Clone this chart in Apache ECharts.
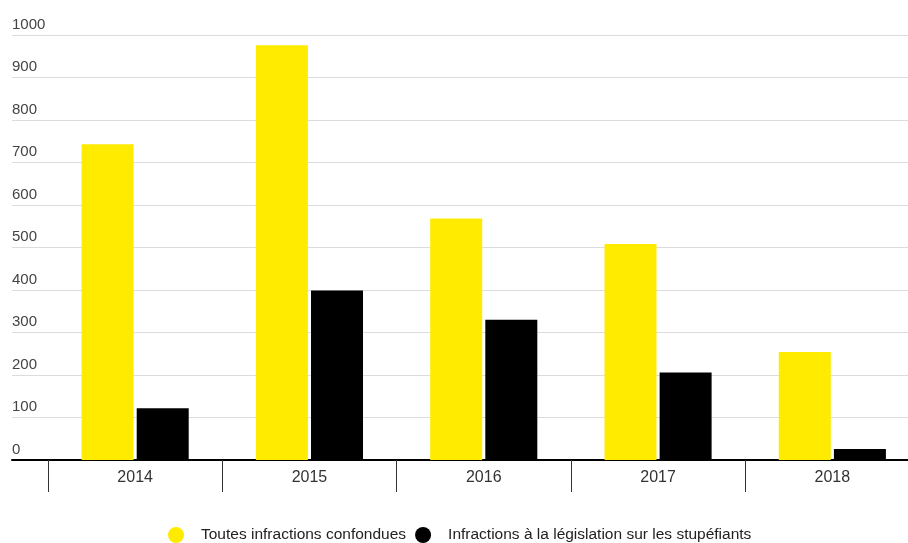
<!DOCTYPE html>
<html>
<head>
<meta charset="utf-8">
<script src="https://cdn.jsdelivr.net/npm/echarts@6/dist/echarts.min.js"></script>
<style>
  html, body { margin: 0; padding: 0; background: #fff; }
  #chart { width: 908px; height: 543px; }
</style>
</head>
<body>
<div id="chart"></div>
<script>
// données
var years = ['2014', '2015', '2016', '2017', '2018'];
var toutes = [743, 976, 568, 508, 254];
var stupefiants = [122, 399, 330, 206, 26];
var seriesNames = ['Toutes infractions confondues', 'Infractions à la législation sur les stupéfiants'];

var myChart = echarts.init(document.getElementById('chart'));

var option = {
    backgroundColor: '#fff',
    textStyle: { fontFamily: 'Liberation Sans, Arial, sans-serif' },
    grid: [
        { left: 12, right: 0, top: 35, height: 425, outerBoundsMode: 'none' },
        { left: 48, width: 871.5, top: 35, height: 425, outerBoundsMode: 'none' }
    ],
    legend: {
        left: 163,
        top: 522,
        icon: 'circle',
        itemWidth: 16,
        itemHeight: 16,
        itemGap: 9,
        textStyle: { fontSize: 15.5, color: '#222', padding: [2, 0, 0, 12] },
        data: seriesNames
    },
    xAxis: [
        {
            gridIndex: 0, type: 'value', min: 0, max: 1,
            axisLine: { show: true, lineStyle: { color: '#000', width: 2 } },
            axisTick: { show: false }, axisLabel: { show: false }, splitLine: { show: false }
        },
        {
            gridIndex: 1, type: 'category', data: years,
            axisLine: { show: false },
            axisTick: { show: true, length: 32, lineStyle: { color: '#333', width: 1 } },
            axisLabel: { margin: 10, fontSize: 16, color: '#333' }
        }
    ],
    yAxis: [
        {
            gridIndex: 0, type: 'value', min: 0, max: 1000, interval: 100,
            axisLine: { show: false }, axisTick: { show: false },
            splitLine: { lineStyle: { color: '#dcdcdc', width: 1 } },
            axisLabel: {
                inside: true, margin: 0, align: 'left', verticalAlign: 'bottom',
                padding: [0, 0, 3, 0], fontSize: 15, color: '#444',
                formatter: function (v) { return String(v); }
            }
        },
        {
            gridIndex: 1, type: 'value', min: 0, max: 1000, show: false
        }
    ],
    series: [
        {
            name: seriesNames[0], type: 'bar', xAxisIndex: 1, yAxisIndex: 1,
            data: toutes, barWidth: 52, barGap: '6%',
            itemStyle: { color: '#ffeb00' }
        },
        {
            name: seriesNames[1], type: 'bar', xAxisIndex: 1, yAxisIndex: 1,
            data: stupefiants, barWidth: 52, barGap: '6%',
            itemStyle: { color: '#000' }
        }
    ]
};

myChart.setOption(option);
</script>
</body>
</html>
